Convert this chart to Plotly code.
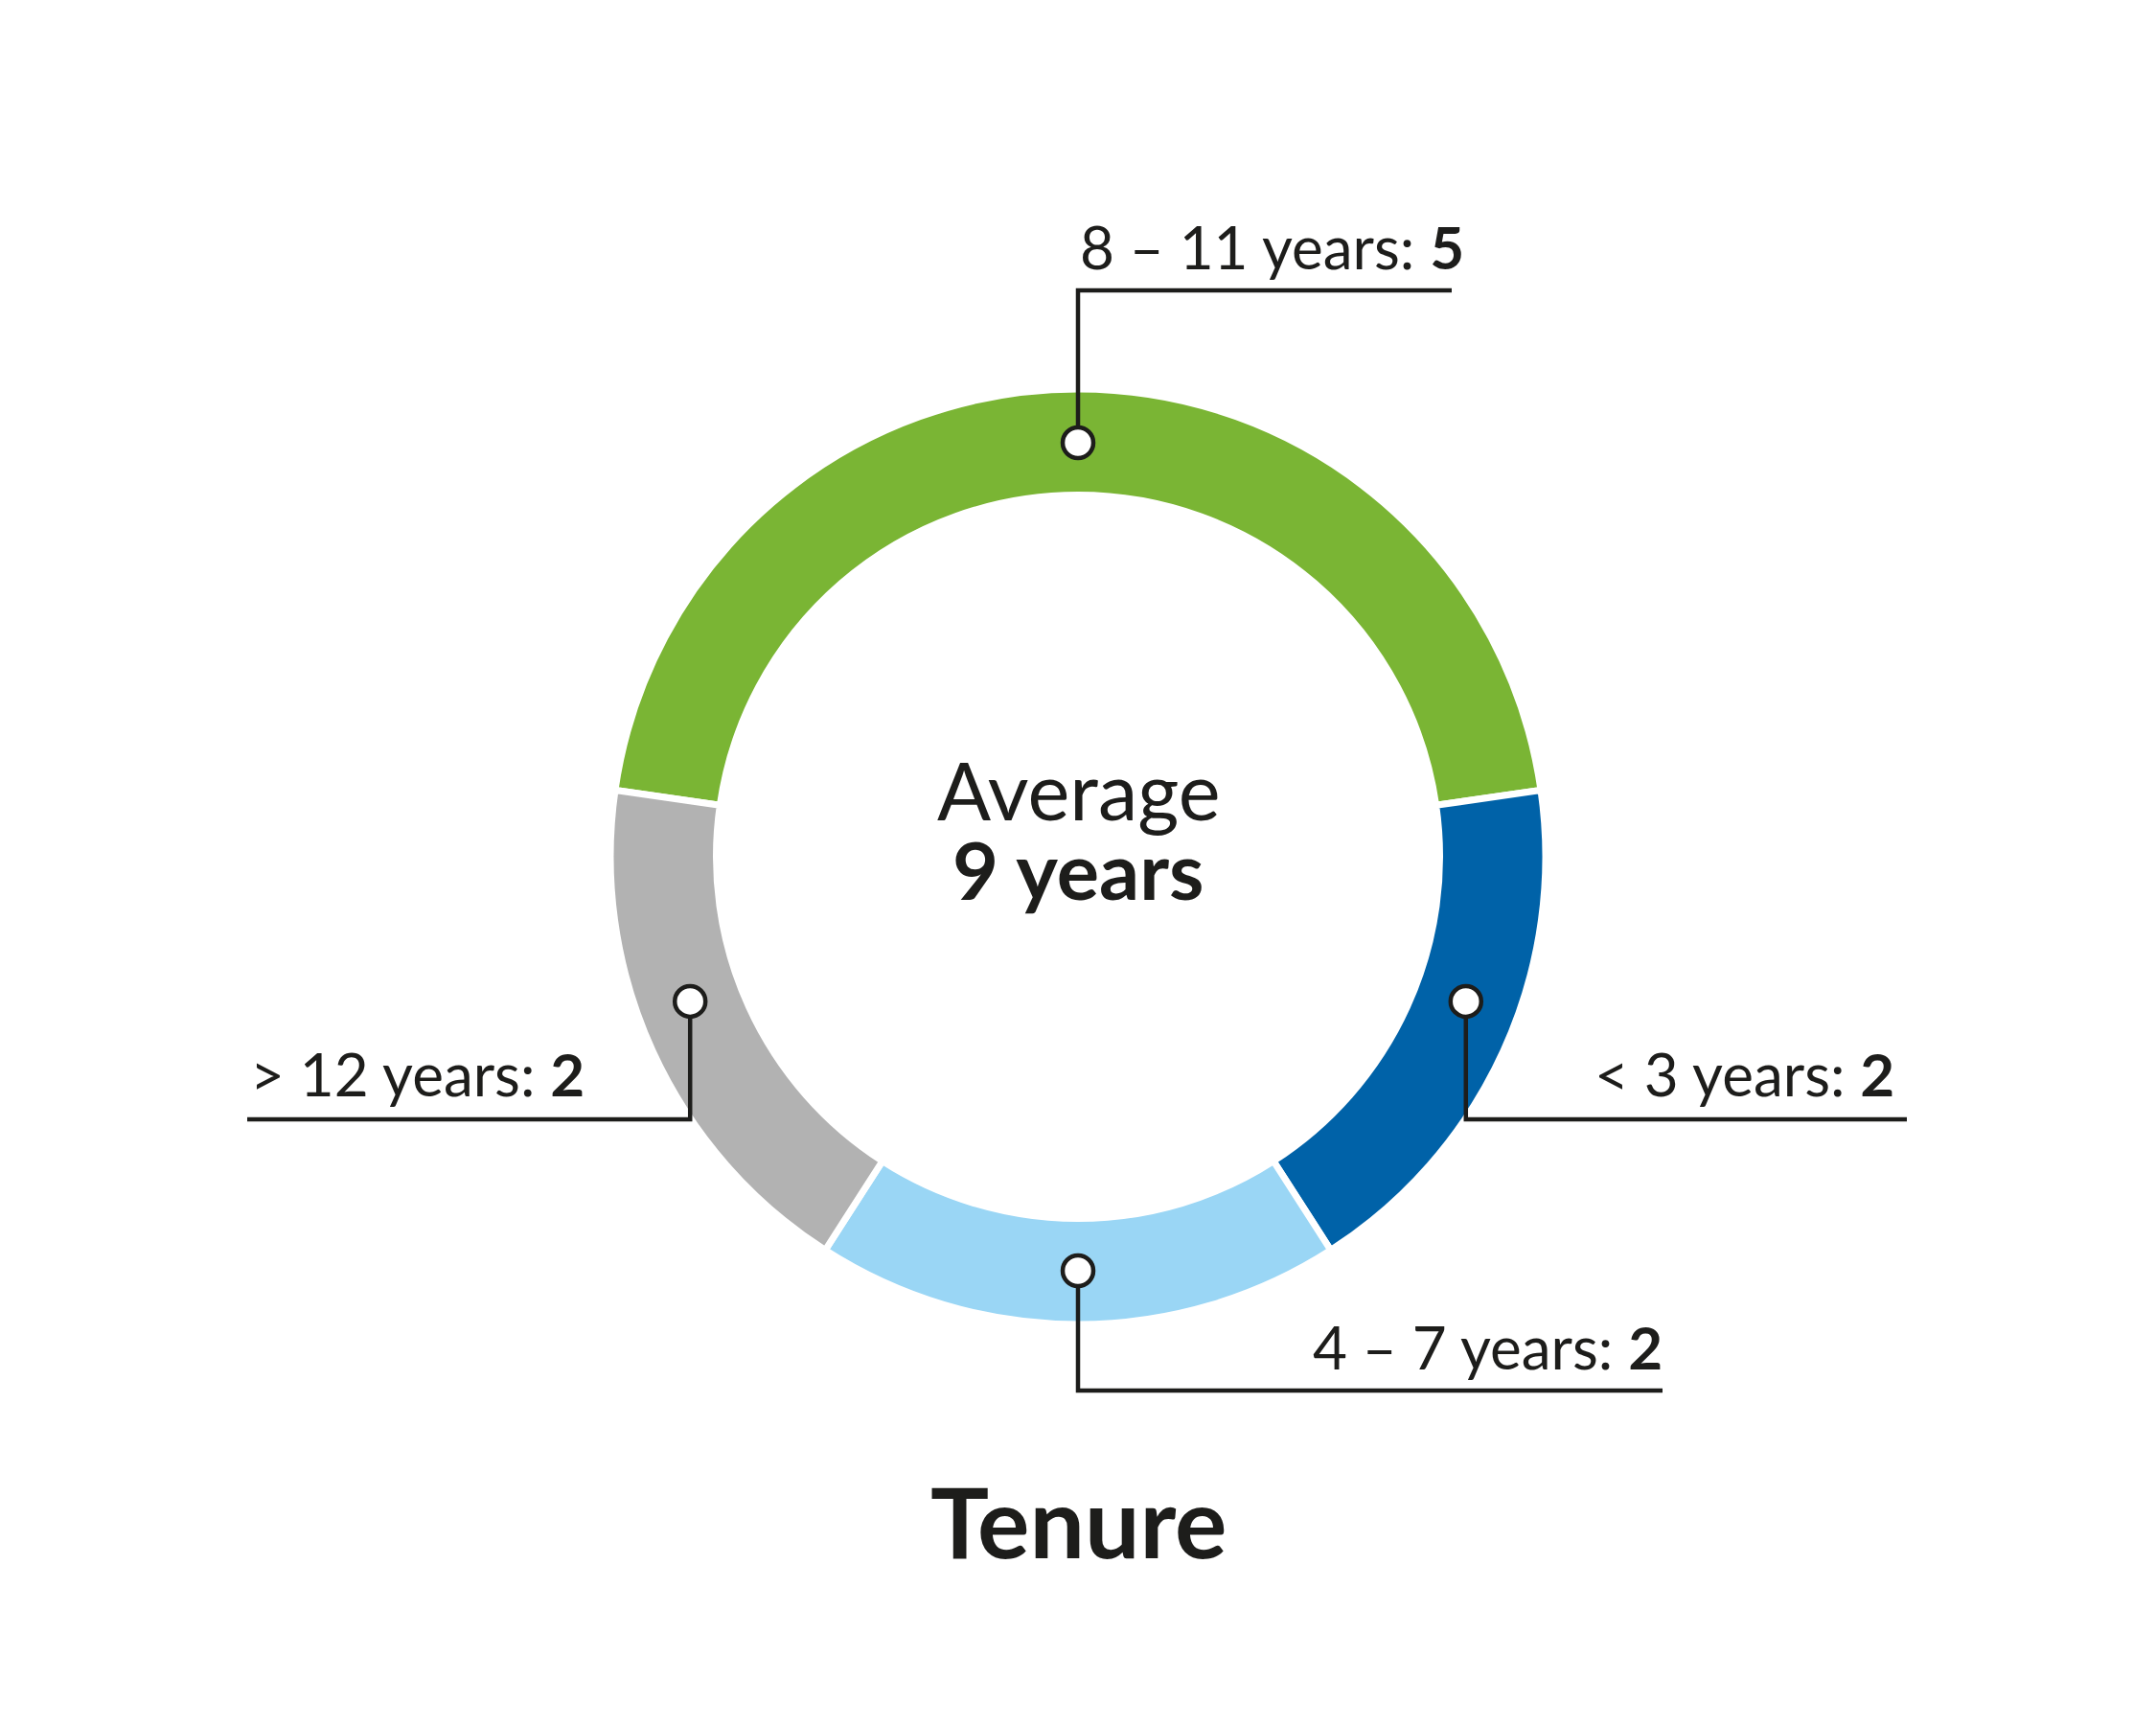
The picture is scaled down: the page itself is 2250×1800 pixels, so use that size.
import math
import plotly.graph_objects as go

# ---------------- data ----------------
categories = ["8 – 11 years", "< 3 years", "4 – 7 years", "> 12 years"]
label_text = ["8 – 11 years", "&lt; 3 years", "4 – 7 years", "&gt; 12 years"]
counts = [5, 2, 2, 2]
colors = ["#7AB534", "#0062A8", "#9AD6F5", "#B2B2B2"]
center_line1 = "Average"
center_line2 = "9 years"
chart_title = "Tenure"

# ---------------- layout / style ----------------
OFF = 8                      # page body margin in browser
W, H = 2250 - OFF, 1800 - OFF
CX, CY = 1125, 894           # donut centre (screen px)
R = 483                      # visual outer radius (px)
R_IN = 381                   # visual inner radius (px)
R_DOMAIN = 488               # domain half-size giving that radius
GAP = 7                      # white separator width
HOLE = (R_IN - GAP / 2) / R_DOMAIN
TXT = "#1d1d1b"
FONT = "Lato"

# callout styling: angle nudge, elbow y, line end x, label anchor
angle_nudge = [0, 4.1, 0, -4.1]
elbow_y = [303, 1168, 1451, 1168]
line_end_x = [1515, 1990, 1735, 258]
label_side = ["left", "right", "right", "left"]
label_x = [1125, 1979, 1737, 259]
label_y = [257, 1120, 1405, 1120]

total = sum(counts)
start_deg = 90 + 360 * counts[0] / total / 2   # first slice centred at top
rotation = -(360 * counts[0] / total / 2)

fig = go.Figure()
fig.add_trace(go.Pie(
    labels=categories, values=counts, sort=False, direction="clockwise",
    rotation=rotation, hole=HOLE,
    marker=dict(colors=colors, line=dict(color="white", width=GAP)),
    textinfo="none", hoverinfo="skip", showlegend=False,
    domain=dict(x=[(CX - OFF - R_DOMAIN) / W, (CX - OFF + R_DOMAIN) / W],
                y=[(H - (CY - OFF) - R_DOMAIN) / H, (H - (CY - OFF) + R_DOMAIN) / H]),
))

shapes = []
annotations = []
r_mid = (R + R_IN) / 2
cum = 0
for i, v in enumerate(counts):
    mid = start_deg - 360 * (cum + v / 2) / total + angle_nudge[i]
    cum += v
    dx = CX + r_mid * math.cos(math.radians(mid))
    dy = CY - r_mid * math.sin(math.radians(mid))
    shapes.append(dict(
        type="path", xref="x", yref="y", layer="above",
        path=f"M {dx},{dy} L {dx},{elbow_y[i]} L {line_end_x[i]},{elbow_y[i]}",
        line=dict(color=TXT, width=4.5),
    ))
    rr = 16
    shapes.append(dict(
        type="circle", xref="x", yref="y", layer="above",
        x0=dx - rr, x1=dx + rr, y0=dy - rr, y1=dy + rr,
        fillcolor="white", line=dict(color=TXT, width=4.5),
    ))
    annotations.append(dict(
        xref="x", yref="y", x=label_x[i], y=label_y[i],
        xanchor=label_side[i], yanchor="middle", showarrow=False,
        text=f"{label_text[i]}: <b>{v}</b>",
        font=dict(family=FONT, size=62, color=TXT),
    ))

annotations += [
    dict(xref="x", yref="y", x=CX, y=824, text=center_line1, showarrow=False,
         xanchor="center", yanchor="middle",
         font=dict(family=FONT, size=83, color=TXT)),
    dict(xref="x", yref="y", x=CX, y=907, text=f"<b>{center_line2}</b>", showarrow=False,
         xanchor="center", yanchor="middle",
         font=dict(family=FONT, size=83, color=TXT)),
    dict(xref="x", yref="y", x=CX, y=1586, text=f"<b>{chart_title}</b>", showarrow=False,
         xanchor="center", yanchor="middle",
         font=dict(family=FONT, size=102, color=TXT)),
]

fig.update_layout(
    width=W, height=H, autosize=False,
    margin=dict(l=0, r=0, t=0, b=0, pad=0),
    paper_bgcolor="white", plot_bgcolor="white",
    xaxis=dict(range=[OFF, OFF + W], domain=[0, 1], visible=False, fixedrange=True),
    yaxis=dict(range=[OFF + H, OFF], domain=[0, 1], visible=False, fixedrange=True),
    shapes=shapes, annotations=annotations, showlegend=False,
)

fig.write_html("out.html")
